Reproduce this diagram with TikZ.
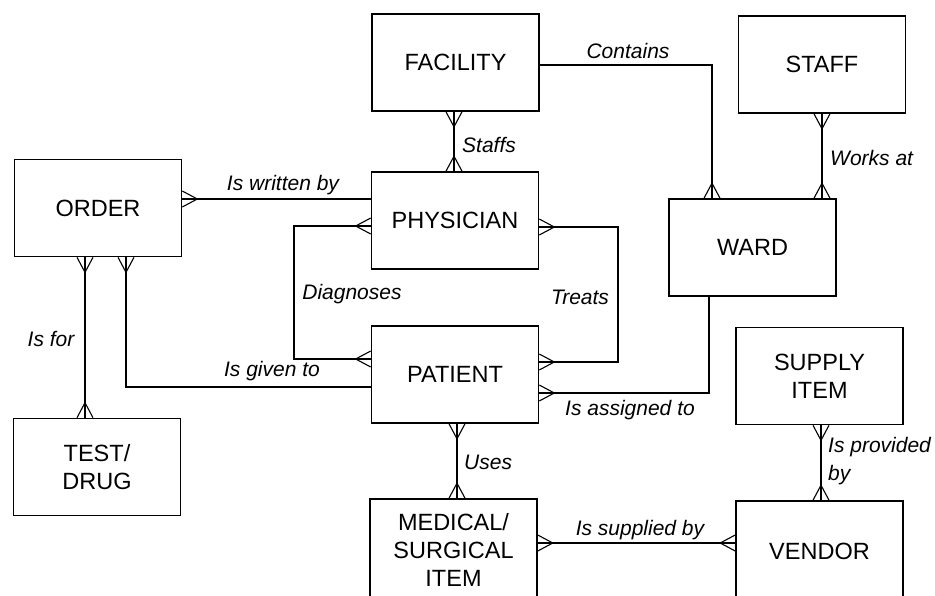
\documentclass[tikz,border=0pt]{standalone}
\usepackage{fontspec}
\setmainfont{Liberation Sans}
\begin{document}
\begin{tikzpicture}[x=1pt,y=-1pt,
  entity/.style={draw,line width=1.6pt,minimum width=167pt,minimum height=97pt,inner sep=0pt,align=center,font=\fontsize{23.5}{28}\selectfont},
  rel/.style={line width=1.1pt},
  relthick/.style={line width=2pt},
  lbl/.style={font=\fontsize{21}{28}\selectfont\itshape,inner sep=0pt},
  crow/.pic={\draw[line width=1.1pt] (0,-8) -- (15,0) -- (0,8);}
]
\useasboundingbox (0,0) rectangle (935,595);
% entities
\node[entity] (order) at (98,208) {ORDER};
\node[entity] (facility) at (455.5,62.5) {FACILITY};
\node[entity] (physician) at (455,220.5) {PHYSICIAN};
\node[entity] (patient) at (455,374.5) {PATIENT};
\node[entity,minimum height=101pt] (medical) at (453.5,549.5) {MEDICAL/\\SURGICAL\\ITEM};
\node[entity,minimum height=101pt] (vendor) at (819.5,551.5) {VENDOR};
\node[entity] (ward) at (752.5,247.5) {WARD};
\node[entity] (staff) at (822,64.5) {STAFF};
\node[entity] (supply) at (819.5,376) {SUPPLY\\ITEM};
\node[entity] (test) at (97,467) {TEST/\\DRUG};
% Is written by
\draw[rel] (order.east |- 0,199) -- (physician.west |- 0,199);
\pic at (order.east |- 0,199) {crow};
\node[lbl] (lwritten) at (283,185) {Is written by};
% Staffs
\draw[relthick] (facility.south -| 454,0) -- (physician.north -| 454,0);
\pic[rotate=-90] at (facility.south -| 454,0) {crow};
\pic[rotate=90] at (physician.north -| 454,0) {crow};
\node[lbl,anchor=west] (lstaffs) at (462,145) {Staffs};
% Contains
\draw[rel] (facility.east |- 0,65) -| (ward.north -| 712,0);
\pic[rotate=90] at (ward.north -| 712,0) {crow};
\node[lbl] (lcontains) at (628,51) {Contains};
% Works at
\draw[relthick] (staff.south -| 822,0) -- (ward.north -| 822,0);
\pic[rotate=-90] at (staff.south -| 822,0) {crow};
\pic[rotate=90] at (ward.north -| 822,0) {crow};
\node[lbl,anchor=west] (lworks) at (830,158) {Works at};
% Diagnoses
\draw[rel] (physician.west |- 0,226) -- (294,226) -- (294,359) -- (patient.west |- 0,359);
\pic[rotate=180] at (physician.west |- 0,226) {crow};
\pic[rotate=180] at (patient.west |- 0,359) {crow};
\node[lbl] (ldiag) at (352,294) {Diagnoses};
% Treats
\draw[rel] (physician.east |- 0,227) -- (618,227) -- (618,362) -- (patient.east |- 0,362);
\pic at (physician.east |- 0,227) {crow};
\pic at (patient.east |- 0,362) {crow};
\node[lbl] (ltreats) at (580,297) {Treats};
% Is given to
\draw[rel] (order.south -| 126,0) |- (patient.west |- 0,387);
\pic[rotate=-90] at (order.south -| 126,0) {crow};
\node[lbl] (lgiven) at (272,371) {Is given to};
% Is for
\draw[relthick] (order.south -| 85,0) -- (test.north -| 85,0);
\pic[rotate=-90] at (order.south -| 85,0) {crow};
\pic[rotate=90] at (test.north -| 85,0) {crow};
\node[lbl] (lfor) at (51,339) {Is for};
% Is assigned to
\draw[rel] (patient.east |- 0,393) -| (ward.south -| 709,0);
\pic at (patient.east |- 0,393) {crow};
\node[lbl] (lassigned) at (630,410) {Is assigned to};
% Uses
\draw[rel] (patient.south -| 457,0) -- (medical.north -| 457,0);
\pic[rotate=-90] at (patient.south -| 457,0) {crow};
\pic[rotate=90] at (medical.north -| 457,0) {crow};
\node[lbl,anchor=west] (luses) at (464,462) {Uses};
% Is supplied by
\draw[rel] (medical.east |- 0,543) -- (vendor.west |- 0,543);
\pic at (medical.east |- 0,543) {crow};
\pic[rotate=180] at (vendor.west |- 0,543) {crow};
\node[lbl] (lsupplied) at (640,530) {Is supplied by};
% Is provided by
\draw[relthick] (supply.south -| 821,0) -- (vendor.north -| 821,0);
\pic[rotate=-90] at (supply.south -| 821,0) {crow};
\pic[rotate=90] at (vendor.north -| 821,0) {crow};
\node[lbl,anchor=west,align=left] (lprovided) at (828,461) {Is provided\\by};
\end{tikzpicture}
\end{document}
